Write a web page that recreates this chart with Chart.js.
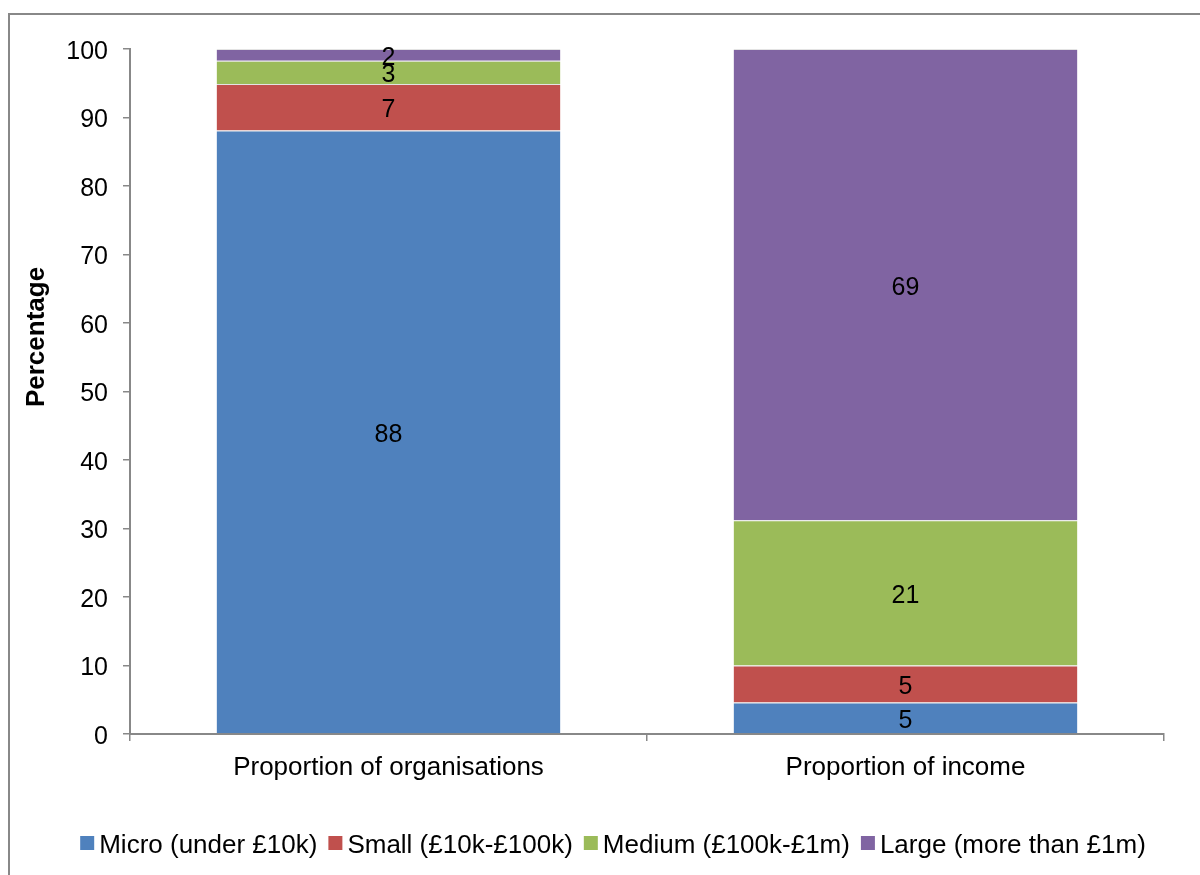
<!DOCTYPE html>
<html>
<head>
<meta charset="utf-8">
<script src="https://cdn.jsdelivr.net/npm/chart.js@4"></script>
<style>
  html, body { margin: 0; padding: 0; background: #fff; }
  #myGrafic { display: block; }
</style>
</head>
<body>
<canvas id="myGrafic" width="1200" height="875"></canvas>
<script>
// Categorias y series (porcentajes)
let categories = ['Proportion of organisations', 'Proportion of income'];
let seriesNames = ['Micro (under £10k)', 'Small (£10k-£100k)', 'Medium (£100k-£1m)', 'Large (more than £1m)'];
let micro = [88.1, 4.6];
let small = [6.8, 5.4];
let medium = [3.4, 21.2];
let large = [1.7, 68.8];
let yTicks = [0, 10, 20, 30, 40, 50, 60, 70, 80, 90, 100];

let colors = ['#4F81BD', '#C0504D', '#9BBB59', '#8064A2'];
let seriesValues = [micro, small, medium, large];

let datasets = [];
for (let i in seriesValues) {
  datasets.push({
    label: seriesNames[i],
    data: seriesValues[i],
    backgroundColor: colors[i],
    borderColor: 'rgba(220,220,220,0.8)',
    borderWidth: { top: 1 },
    borderSkipped: false,
    barPercentage: 0.665,
    categoryPercentage: 1
  });
}

const FONT = '"Liberation Sans", Arial, sans-serif';
const AXIS_GRAY = '#888888';

// Marco exterior del grafico
const framePlugin = {
  id: 'frame',
  beforeDraw(chart) {
    const ctx = chart.ctx;
    ctx.save();
    ctx.strokeStyle = AXIS_GRAY;
    ctx.lineWidth = 2;
    ctx.beginPath();
    ctx.moveTo(9, chart.height + 5);
    ctx.lineTo(9, 14);
    ctx.lineTo(chart.width + 5, 14);
    ctx.stroke();
    ctx.restore();
  }
};

// Etiquetas de valor en el centro de cada segmento
const valueLabels = {
  id: 'valueLabels',
  afterDatasetsDraw(chart) {
    const ctx = chart.ctx;
    ctx.save();
    ctx.font = '25px ' + FONT;
    ctx.fillStyle = '#000';
    ctx.textAlign = 'center';
    ctx.textBaseline = 'middle';
    chart.data.datasets.forEach((ds, i) => {
      chart.getDatasetMeta(i).data.forEach((bar, j) => {
        ctx.fillText(Math.round(ds.data[j]), bar.x, (bar.y + bar.base) / 2 + 3);
      });
    });
    ctx.restore();
  }
};

// Titulo del eje Y y leyenda
const extras = {
  id: 'extras',
  afterDraw(chart) {
    const ctx = chart.ctx;
    ctx.save();
    ctx.fillStyle = '#000';
    ctx.font = 'bold 26px ' + FONT;
    ctx.textAlign = 'center';
    ctx.textBaseline = 'middle';
    ctx.translate(37, 337);
    ctx.rotate(-Math.PI / 2);
    ctx.fillText('Percentage', 0, 0);
    ctx.restore();

    ctx.save();
    ctx.font = '26px ' + FONT;
    ctx.textBaseline = 'middle';
    const box = 14, gap = 5, itemGap = 11;
    let widths = chart.data.datasets.map(ds => box + gap + ctx.measureText(ds.label).width);
    let total = widths.reduce((a, b) => a + b, 0) + itemGap * (widths.length - 1);
    let x = 613 - total / 2;
    const y = 843;
    chart.data.datasets.forEach((ds, i) => {
      ctx.fillStyle = ds.backgroundColor;
      ctx.fillRect(x, y - box / 2, box, box);
      ctx.fillStyle = '#000';
      ctx.fillText(ds.label, x + box + gap, y + 3);
      x += widths[i] + itemGap;
    });
    ctx.restore();
  }
};

let myChart = {
  type: 'bar',
  data: {
    labels: categories,
    datasets
  },
  options: {
    responsive: false,
    animation: false,
    layout: { padding: { left: 0, top: 49, right: 36, bottom: 81 } },
    plugins: {
      legend: { display: false },
      tooltip: { enabled: false }
    },
    scales: {
      x: {
        stacked: true,
        grid: { drawOnChartArea: false, color: AXIS_GRAY, tickLength: 7, lineWidth: 1.5 },
        border: { color: AXIS_GRAY, width: 2 },
        ticks: { color: '#000', font: { family: FONT, size: 26 }, padding: 11 },
        afterFit(scale) { scale.height = 60; }
      },
      y: {
        stacked: true,
        min: 0,
        max: 100,
        afterBuildTicks(scale) { scale.ticks = yTicks.map(v => ({ value: v })); },
        grid: { drawOnChartArea: false, color: AXIS_GRAY, tickLength: 7, lineWidth: 1.5 },
        border: { color: AXIS_GRAY, width: 2 },
        ticks: { color: '#000', font: { family: FONT, size: 25 }, padding: 15, labelOffset: 3 },
        afterFit(scale) { scale.width = 130; }
      }
    }
  },
  plugins: [framePlugin, valueLabels, extras]
};

var myGrafic = document.getElementById('myGrafic');
window.bars = new Chart(myGrafic, myChart);
</script>
</body>
</html>
